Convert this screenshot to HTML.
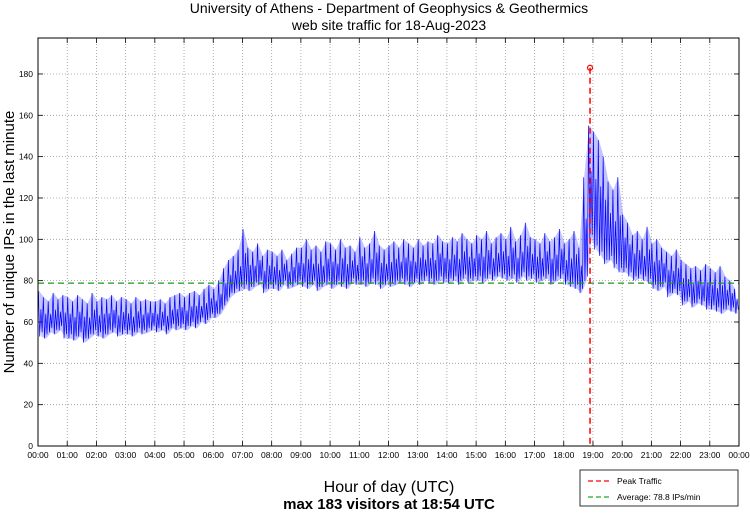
<!DOCTYPE html>
<html><head><meta charset="utf-8"><style>
body{margin:0;background:#fff;font-family:"Liberation Sans",sans-serif}
svg text{font-family:"Liberation Sans",sans-serif}
</style></head><body>
<svg id="c" width="750" height="511">
<text x="389" y="13" font-size="14" text-anchor="middle">University of Athens - Department of Geophysics &amp; Geothermics</text>
<text x="389" y="30" font-size="14" text-anchor="middle">web site traffic for 18-Aug-2023</text>
<text transform="translate(14,242) rotate(-90)" font-size="15" text-anchor="middle">Number of unique IPs in the last minute</text>
<text x="389" y="492" font-size="16" text-anchor="middle">Hour of day (UTC)</text>
<text x="389" y="509" font-size="15" font-weight="bold" text-anchor="middle">max 183 visitors at 18:54 UTC</text>
<g id="grid"></g><g id="series"></g><g id="refs"></g>
<rect x="38" y="38" width="701" height="408" fill="none" stroke="#000" stroke-width="1"/>
<g>
<rect x="580" y="470" width="158" height="36" fill="#fff" stroke="#000" stroke-width="0.8"/>
<line x1="588" y1="481" x2="612" y2="481" stroke="red" stroke-dasharray="5,3" stroke-width="1.2"/>
<text x="617" y="484" font-size="8.5">Peak Traffic</text>
<line x1="588" y1="497" x2="612" y2="497" stroke="#2a2" stroke-dasharray="5,3" stroke-width="1.2"/>
<text x="617" y="500" font-size="8.5">Average: 78.8 IPs/min</text>
</g>
</svg>
<script>
const hiVals=[75,72,70,74,71,73, 72,70,73,71,69,74, 70,72,71,73,70,72, 71,69,72,70,71,70, 70,71,69,72,73,74, 72,74,75,73,76,78,
76,80,86,90,92,95, 105,96,94,98,92,95, 94,92,95,90,93,96, 96,100,95,97,94,99, 98,95,100,96,97,94, 101,96,98,104,97,95,
97,99,96,100,98,96, 100,97,99,98,102,99, 98,101,99,103,100,98, 102,100,104,98,101,103, 100,106,99,102,108,101, 100,98,103,99,101,105,
98,100,104,96,130,155, 152,148,140,128,124,130, 112,108,102,104,100,106, 98,100,96,94,92,95, 90,88,86,87,85,88, 86,84,87,82,80,76];
const loVals=[53,52,55,54,56,52, 52,51,53,50,52,54, 53,52,54,55,53,54, 54,53,55,54,55,56, 55,56,54,57,56,57, 56,58,57,60,59,62,
62,64,68,72,74,75, 76,75,77,78,74,76, 76,75,78,76,77,78, 77,76,78,75,77,78, 76,78,77,76,79,78, 78,77,79,78,76,78,
77,78,79,78,77,79, 78,80,79,78,80,79, 79,80,78,81,79,80, 80,79,81,80,82,81, 80,81,79,82,80,81, 79,80,81,78,80,81,
78,77,76,74,80,100, 95,92,88,90,86,84, 84,82,80,81,80,79, 76,75,77,72,74,73, 68,70,67,69,68,66, 66,65,64,66,65,64];
const xTicks=["00:00","01:00","02:00","03:00","04:00","05:00","06:00","07:00","08:00","09:00","10:00","11:00","12:00","13:00","14:00","15:00","16:00","17:00","18:00","19:00","20:00","21:00","22:00","23:00","00:00"];
const yTicks=[0,20,40,60,80,100,120,140,160,180];
const peakMinute=1134, peakValue=183, avgValue=78.8;
const X0=38,X1=739,Y0=446,Y1=38,YMAX=197.4;
const xs=m=>X0+(X1-X0)*m/1440, ys=v=>Y0-(Y0-Y1)*v/YMAX;
const NS="http://www.w3.org/2000/svg";
function mk(tag,attrs,parent){const e=document.createElementNS(NS,tag);for(const k in attrs)e.setAttribute(k,attrs[k]);parent.appendChild(e);return e;}
const grid=document.getElementById('grid'),ser=document.getElementById('series'),refs=document.getElementById('refs'),svg=document.getElementById('c');
xTicks.forEach((t,i)=>{const x=xs(i*60);
 if(i>0&&i<24){const l=mk('line',{x1:x,y1:Y1,x2:x,y2:Y0,stroke:'#999','stroke-dasharray':'1,2','stroke-width':0.8},grid);
 
 }
 mk('line',{x1:x,y1:Y0,x2:x,y2:Y0-5,stroke:'#000','stroke-width':0.8},grid);
 mk('line',{x1:x,y1:Y1,x2:x,y2:Y1+5,stroke:'#000','stroke-width':0.8},grid);
 const tx=mk('text',{x:x,y:458,'font-size':8.5,'text-anchor':'middle'},svg);tx.textContent=t;
 
 });
yTicks.forEach(v=>{const y=ys(v);
 if(v>0){const l=mk('line',{x1:X0,y1:y,x2:X1,y2:y,stroke:'#999','stroke-dasharray':'1,2','stroke-width':0.8},grid);
 
 }
 mk('line',{x1:X0,y1:y,x2:X0+5,y2:y,stroke:'#000','stroke-width':0.8},grid);
 mk('line',{x1:X1,y1:y,x2:X1-5,y2:y,stroke:'#000','stroke-width':0.8},grid);
 const tx=mk('text',{x:X0-5,y:y+3,'font-size':8.5,'text-anchor':'end'},svg);tx.textContent=v;
 
 });
let band=[],lo=[],zig=[];
hiVals.forEach((h,i)=>{const m=i*10;band.push(xs(m+2)+','+ys(h));lo.unshift(xs(m+7)+','+ys(loVals[i]));
 zig.push(xs(m+1)+','+ys(h),xs(m+3.5)+','+ys(loVals[i]),xs(m+6)+','+ys(h*0.6+loVals[i]*0.4),xs(m+8.5)+','+ys(loVals[i]+2));});
const b=mk('polygon',{points:band.concat(lo).join(' '),fill:'#6a6aff','fill-opacity':0.4,stroke:'none'},ser);


const p=mk('polyline',{points:zig.join(' '),fill:'none',stroke:'#0000ff','stroke-width':0.7},ser);


const a=mk('line',{x1:X0,y1:ys(avgValue),x2:X1,y2:ys(avgValue),stroke:'#1a9a1a','stroke-dasharray':'6,4','stroke-width':1.2},refs);


const pk=mk('line',{x1:xs(peakMinute),y1:ys(peakValue),x2:xs(peakMinute),y2:Y0,stroke:'red','stroke-dasharray':'6,4','stroke-width':1.5},refs);


const c=mk('circle',{cx:xs(peakMinute),cy:ys(peakValue),r:2.5,fill:'none',stroke:'red','stroke-width':1.2},refs);


</script>
</body></html>
